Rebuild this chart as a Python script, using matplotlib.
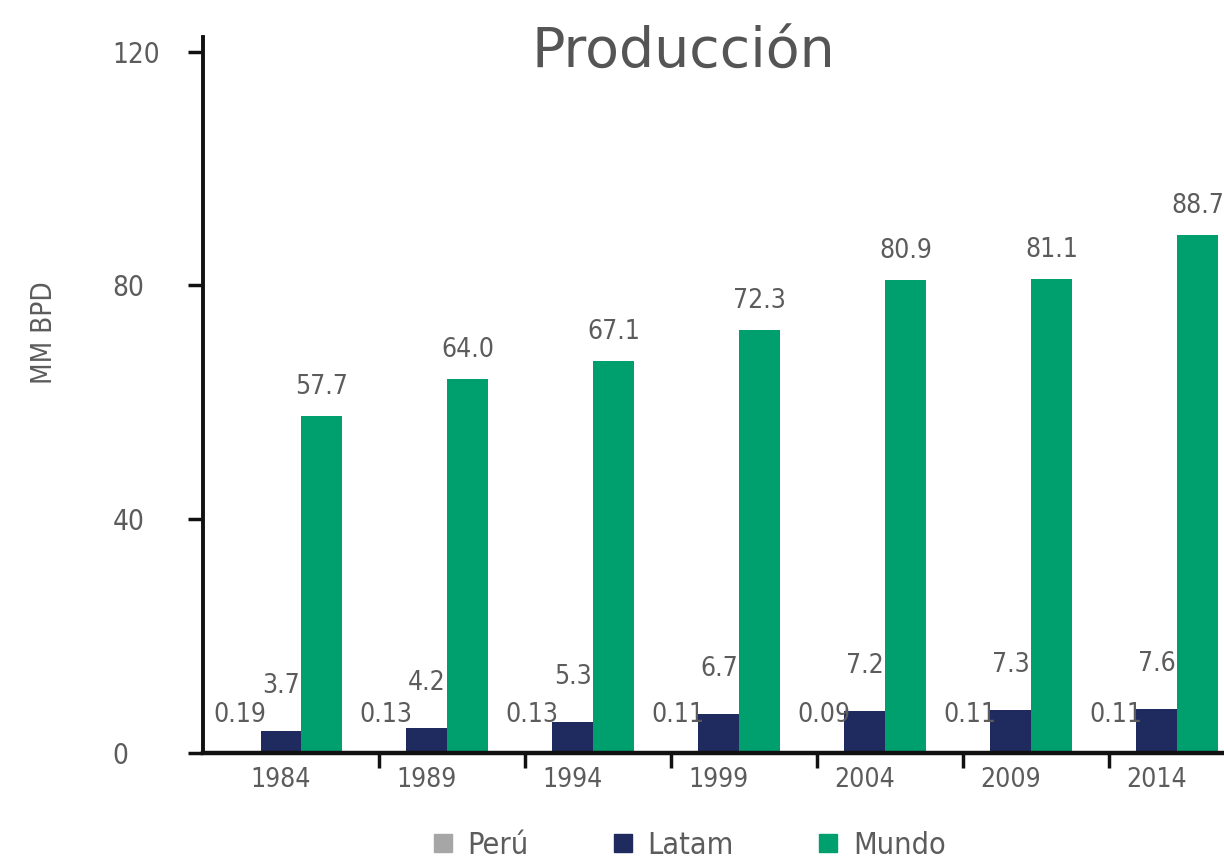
import matplotlib
matplotlib.use("Agg")
import matplotlib.pyplot as plt
from matplotlib.lines import Line2D
import numpy as np

years = ["1984", "1989", "1994", "1999", "2004", "2009", "2014"]
peru = [0.19, 0.13, 0.13, 0.11, 0.09, 0.11, 0.11]
latam = [3.7, 4.2, 5.3, 6.7, 7.2, 7.3, 7.6]
mundo = [57.7, 64.0, 67.1, 72.3, 80.9, 81.1, 88.7]
peru_labels = ["0.19", "0.13", "0.13", "0.11", "0.09", "0.11", "0.11"]
latam_labels = ["3.7", "4.2", "5.3", "6.7", "7.2", "7.3", "7.6"]
mundo_labels = ["57.7", "64.0", "67.1", "72.3", "80.9", "81.1", "88.7"]
series_names = ["Perú", "Latam", "Mundo"]
yticks = [0, 40, 80, 120]

c_peru = "#a6a6a6"
c_latam = "#1f2a5e"
c_mundo = "#00a06e"
txt = "#5c5c5c"

fig = plt.figure(figsize=(12.24, 8.6), dpi=100)
ax = fig.add_axes([203/1224, 107/860, 1 - 203/1224, (753-37)/860])

x = np.arange(len(years))
w = 0.28
b1 = ax.bar(x - w, peru, w, color=c_peru)
b2 = ax.bar(x, latam, w, color=c_latam)
b3 = ax.bar(x + w, mundo, w, color=c_mundo)

fp = dict(family="DejaVu Sans", stretch="condensed")

for bars, labs, off in [(b1, peru_labels, 24), (b2, latam_labels, 32), (b3, mundo_labels, 16)]:
    for r, lab in zip(bars, labs):
        ax.annotate(lab, (r.get_x() + r.get_width()/2, r.get_height()),
                    xytext=(0, off), textcoords="offset pixels",
                    ha="center", va="bottom", fontsize=19, color=txt, **fp)

ax.set_xlim(-0.534, 6.46)
ax.set_ylim(0, 122.5)
ax.set_yticks(yticks)
ax.set_yticklabels([str(t) for t in yticks], fontsize=20, color=txt, ha="left", **fp)
ax.tick_params(axis="y", length=11, width=2.5, pad=54, direction="out", color="#111111")

ax.set_xticks(x)
ax.set_xticklabels(years, fontsize=19, color=txt, **fp)
ax.set_xticks(x[1:] - 0.33, minor=True)
ax.tick_params(axis="x", which="major", length=0, pad=10)
ax.tick_params(axis="x", which="minor", length=11, width=2.5, direction="out", color="#111111")

for s in ["top", "right"]:
    ax.spines[s].set_visible(False)
ax.spines["left"].set_linewidth(2.8)
ax.spines["bottom"].set_linewidth(3.2)
ax.spines["left"].set_color("#111111")
ax.spines["bottom"].set_color("#111111")

ax.set_ylabel("MM BPD", fontsize=20, color=txt, labelpad=0, **fp)
ax.yaxis.set_label_coords((58 - 203) / 1021, (753 - 333) / 716)

fig.text(683/1224, 1 - 53/860, "Producción", ha="center", va="center",
         fontsize=40, color="#555555", family="DejaVu Sans")

handles = [Line2D([], [], marker="s", linestyle="none", markersize=13, color=c)
           for c in [c_peru, c_latam, c_mundo]]
fig.legend(handles, series_names, loc="center", bbox_to_anchor=(688/1224, 1 - 845/860),
           ncol=3, frameon=False, handlelength=0.8, handletextpad=0.4, columnspacing=2.7,
           labelcolor=txt, prop={"family": "DejaVu Sans", "stretch": "condensed", "size": 22})

fig.savefig("out.png", dpi=100)
